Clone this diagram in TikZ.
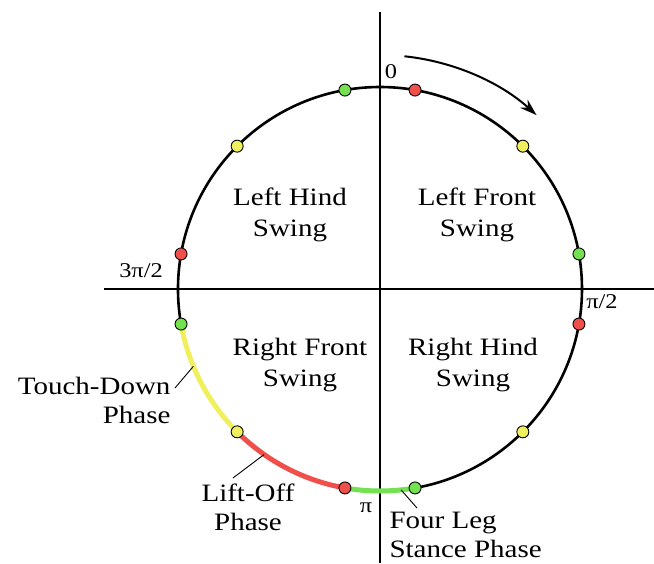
\documentclass[tikz,border=0pt]{standalone}
\usepackage{fontspec}
\setmainfont[FakeStretch=1.16]{Liberation Serif}
\usepackage{tikz}
\usetikzlibrary{arrows.meta, positioning}
\definecolor{phasered}{RGB}{240,80,75}
\definecolor{phasegreen}{RGB}{115,225,80}
\definecolor{phaseyellow}{RGB}{240,240,95}

\tikzset{
  legdot/.style={circle,draw=black,line width=0.9pt,inner sep=0pt,minimum size=12pt},
  phasearc/.style={line width=5pt},
  quadlabel/.style={align=center,font=\fontsize{25}{31}\selectfont},
  sidelabel/.style={font=\fontsize{25}{29}\selectfont},
  anglabel/.style={font=\fontsize{21}{26}\selectfont},
  leader/.style={line width=0.9pt}
}

\begin{document}
\begin{tikzpicture}[x=1pt,y=1pt]
    \useasboundingbox (-380,-274) rectangle (274,289);
    % axes
    \coordinate (xl) at (-276,0);
    \coordinate (xr) at (274,0);
    \coordinate (yt) at (0,277);
    \coordinate (yb) at (0,-274);
    \draw[line width=1.2pt] (xl) -- (xr);
    \draw[line width=1.2pt] (yt) -- (yb);
    % gait cycle
    \draw[line width=2.6pt] (0,0) circle[radius=202];
    \draw[phasearc,phasegreen] (-80:202) arc[start angle=-80,end angle=-100,radius=202];
    \draw[phasearc,phasered] (-100:202) arc[start angle=-100,end angle=-135,radius=202];
    \draw[phasearc,phaseyellow] (-135:202) arc[start angle=-135,end angle=-170,radius=202];
    % direction
    \draw[line width=2pt,-{Stealth[length=17pt,width=11pt]}] (84:234) arc[start angle=84,end angle=48,radius=234];
    % leg events
    \foreach \ph/\col in {10/phasered,350/phasegreen,45/phaseyellow,80/phasegreen,
                          100/phasered,135/phaseyellow,170/phasegreen,190/phasered,
                          225/phaseyellow,260/phasegreen,280/phasered,315/phaseyellow}
      \node[legdot,fill=\col] (ev\ph) at ({90-\ph}:202) {};
    % angle labels
    \node[anglabel] (zero) at (11,217) {0};
    \node[anglabel] (halfpi) at (222,-13) {π/2};
    \node[anglabel] (threehalfpi) at (-239,18) {3π/2};
    \node[anglabel] (pi) at (-14,-219) {π};
    % quadrants
    \node[quadlabel] (lh) at (-90,74) {Left Hind\\Swing};
    \node[quadlabel] (lf) at (97,74) {Left Front\\Swing};
    \node[quadlabel] (rf) at (-80,-76) {Right Front\\Swing};
    \node[quadlabel] (rh) at (93,-76) {Right Hind\\Swing};
    % phase labels
    \node[sidelabel,align=right,anchor=east] (touch) at (-206,-111) {Touch-Down\\Phase};
    \node[sidelabel,align=center] (lift) at (-132,-218) {Lift-Off\\Phase};
    \node[sidelabel,align=left,anchor=west] (stance) at (6,-246) {Four Leg\\Stance Phase};
    \coordinate (tdpt) at ({90-247.5}:202);
    \coordinate (lopt) at ({90-215}:202);
    \coordinate (stpt) at ({90-174}:202);
    \draw[leader] (-205,-99) -- (tdpt);
    \draw[leader] (-147,-189) -- (lopt);
    \draw[leader] (37,-219) -- (stpt);
  \end{tikzpicture}
\end{document}
